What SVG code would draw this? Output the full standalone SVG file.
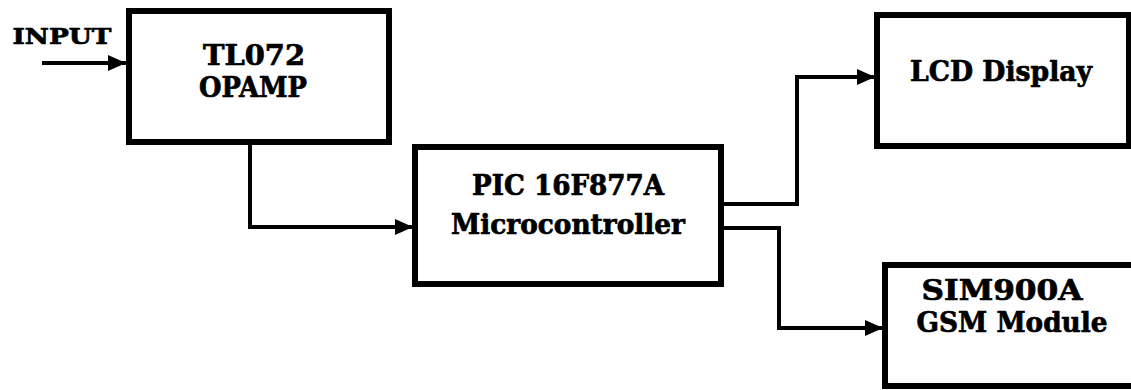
<svg xmlns="http://www.w3.org/2000/svg" width="1131" height="390" viewBox="0 0 1131 390">
<style>
.box{fill:#fff;stroke:#000;stroke-width:6}
.wire{fill:none;stroke:#000;stroke-width:4}
text{font-family:"DejaVu Serif","Liberation Serif",serif;font-weight:bold;font-size:27px;fill:#000;stroke:#000;stroke-width:0.7;text-anchor:middle}
</style>
<defs>
<marker id="arr" markerUnits="userSpaceOnUse" markerWidth="20" markerHeight="18" refX="18" refY="9" orient="auto">
<path d="M0,1 L18,9 L0,17 Z" fill="#000"/>
</marker>
</defs>
<rect width="1131" height="390" fill="#fff"/>
<g id="connectors">
<path class="wire" d="M42,63 H126" marker-end="url(#arr)"/>
<path class="wire" d="M250,142 V227 H413" marker-end="url(#arr)"/>
<path class="wire" d="M721,204 H797 V77 H875" marker-end="url(#arr)"/>
<path class="wire" d="M721,228 H779 V328 H883" marker-end="url(#arr)"/>
</g>
<g id="input-label">
<text x="62" y="44" font-family="DejaVu Serif, Liberation Serif, serif" style="font-size:23px" textLength="99" lengthAdjust="spacingAndGlyphs">INPUT</text>
</g>
<g id="tl072">
<rect class="box" x="129" y="11" width="260" height="131"/>
<text x="254" y="65" font-family="DejaVu Serif, Liberation Serif, serif" textLength="102" lengthAdjust="spacingAndGlyphs">TL072</text>
<text x="253" y="97" font-family="DejaVu Serif, Liberation Serif, serif" textLength="108" lengthAdjust="spacingAndGlyphs">OPAMP</text>
</g>
<g id="pic">
<rect class="box" x="415" y="147" width="306" height="137"/>
<text x="568" y="195" font-family="DejaVu Serif, Liberation Serif, serif" textLength="192" lengthAdjust="spacingAndGlyphs">PIC 16F877A</text>
<text x="568" y="234" font-family="DejaVu Serif, Liberation Serif, serif" textLength="234" lengthAdjust="spacingAndGlyphs">Microcontroller</text>
</g>
<g id="lcd">
<rect class="box" x="877" y="15" width="252" height="131"/>
<text x="1001" y="81" font-family="DejaVu Serif, Liberation Serif, serif" textLength="182" lengthAdjust="spacingAndGlyphs">LCD Display</text>
</g>
<g id="gsm">
<rect class="box" x="885" y="265" width="252" height="121"/>
<text x="1002" y="300" font-family="DejaVu Serif, Liberation Serif, serif" textLength="161" lengthAdjust="spacingAndGlyphs">SIM900A</text>
<text x="1012" y="332" font-family="DejaVu Serif, Liberation Serif, serif" textLength="191" lengthAdjust="spacingAndGlyphs">GSM Module</text>
</g>
</svg>
